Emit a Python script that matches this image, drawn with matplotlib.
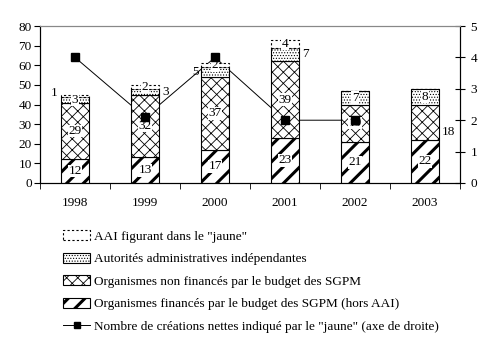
import numpy as np
import matplotlib
matplotlib.use('Agg')
import matplotlib.pyplot as plt
from matplotlib.patches import Patch
from matplotlib.lines import Line2D

plt.rcParams['font.family'] = ['Liberation Serif', 'DejaVu Serif']
plt.rcParams['font.size'] = 9.5

# data
years = ['1998', '1999', '2000', '2001', '2002', '2003']
finances = [12, 13, 17, 23, 21, 22]
non_finances = [29, 32, 37, 39, 19, 18]
aai = [3, 3, 5, 7, 7, 8]
aai_jaune = [1, 2, 2, 4, 0, 0]
creations = [4, 2.1, 4, 2, 2, None]

x = np.arange(len(years))
w = 0.4

fig = plt.figure(figsize=(4.92, 3.38), dpi=100)
ax = fig.add_axes([0.0813, 0.4586, 0.8537, 0.4644])
ax2 = ax.twinx()
# bars above the line, line behind bars
ax.set_zorder(ax2.get_zorder() + 1)
ax.patch.set_visible(False)

plt.rcParams['hatch.linewidth'] = 2.2
b1 = ax.bar(x, finances, w, color='white', edgecolor='black', hatch='//', lw=0.8)
plt.rcParams['hatch.linewidth'] = 0.6
bottom = np.array(finances)
b2 = ax.bar(x, non_finances, w, bottom=bottom, color='white', edgecolor='black', hatch='xxx', lw=0.8)
bottom = bottom + np.array(non_finances)
plt.rcParams['hatch.linewidth'] = 0.5
b3 = ax.bar(x, aai, w, bottom=bottom, color='white', edgecolor='black', hatch='......', lw=0.8)
bottom = bottom + np.array(aai)
b4 = ax.bar(x, aai_jaune, w, bottom=bottom, color='white', edgecolor='black', lw=0.8, ls=(0, (2, 2)))

# value labels
def lab(xx, yy, s, ha='center'):
    ax.text(xx, yy, s, ha=ha, va='center', fontsize=9.5,
            bbox=dict(boxstyle='square,pad=0.02', fc='white', ec='none'))

for i in range(len(years)):
    lab(x[i], finances[i] / 2, str(finances[i]))
    if i != 5:
        lab(x[i], finances[i] + non_finances[i] / 2, str(non_finances[i]))
    base = finances[i] + non_finances[i]
    if i in (0, 2, 4, 5):
        if i == 2:
            ax.text(x[i] - w / 2 - 0.03, base + aai[i] / 2, str(aai[i]), ha='right', va='center')
        else:
            lab(x[i], base + aai[i] / 2, str(aai[i]))
    else:
        ax.text(x[i] + w / 2 + 0.05, base + aai[i] / 2, str(aai[i]), ha='left', va='center')
    top = base + aai[i]
    if aai_jaune[i] > 0:
        if i == 0:
            ax.text(x[i] - w / 2 - 0.05, top + 2, str(aai_jaune[i]), ha='right', va='center')
        else:
            lab(x[i], top + aai_jaune[i] / 2, str(aai_jaune[i]))
ax.text(x[5] + w / 2 + 0.04, finances[5] + non_finances[5] / 2 - 5, str(non_finances[5]),
        ha='left', va='center')

# line on right axis (behind bars), markers on top
xs = [xi for xi, v in zip(x, creations) if v is not None]
ys = [v for v in creations if v is not None]
ax2.plot(xs, ys, color='black', lw=0.7)
ax.plot(xs, ys, ls='none', marker='s', ms=6, mfc='black', mec='black',
        transform=ax2.transData, zorder=5)

ax.set_ylim(0, 80)
ax.set_yticks(range(0, 81, 10))
ax2.set_ylim(0, 5)
ax2.set_yticks(range(0, 6))
ax.set_xlim(-0.5, 5.5)
ax.set_xticks(x)
ax.set_xticklabels(years)
ax.set_xticks(np.arange(-0.5, 6, 1), minor=True)
ax.tick_params(axis='x', which='major', length=0, pad=10)
ax.tick_params(axis='x', which='minor', length=4, direction='out')
ax.tick_params(axis='y', length=4, direction='out', pad=2)
ax2.tick_params(axis='y', length=7, direction='inout', pad=4)

for a in (ax, ax2):
    a.spines['top'].set_color('#888888')
    a.spines['left'].set_color('black')
    a.spines['right'].set_color('black')

handles = [
    Patch(facecolor='white', edgecolor='black', ls=(0, (2, 2)), lw=0.8),
    Patch(facecolor='white', edgecolor='black', hatch='......', lw=0.8),
    Patch(facecolor='white', edgecolor='black', hatch='xxx', lw=0.8),
    Patch(facecolor='white', edgecolor='black', hatch='//', lw=0.8),
    Line2D([0], [0], color='black', lw=0.7, marker='s', ms=5, mfc='black'),
]
labels = [
    'AAI figurant dans le "jaune"',
    'Autorités administratives indépendantes',
    'Organismes non financés par le budget des SGPM',
    'Organismes financés par le budget des SGPM (hors AAI)',
    'Nombre de créations nettes indiqué par le "jaune" (axe de droite)',
]
leg = fig.legend(handles, labels, loc='upper left', bbox_to_anchor=(0.118, 0.335),
                 frameon=False, handlelength=2.0, handleheight=0.8, handletextpad=0.3,
                 labelspacing=0.75, borderaxespad=0, fontsize=9.5)
lw_hatch = [0.5, 0.5, 0.6, 2.2]
for p, hl in zip(leg.get_patches(), lw_hatch):
    if hasattr(p, 'set_hatch_linewidth'):
        p.set_hatch_linewidth(hl)

fig.savefig('out.png', dpi=100)
